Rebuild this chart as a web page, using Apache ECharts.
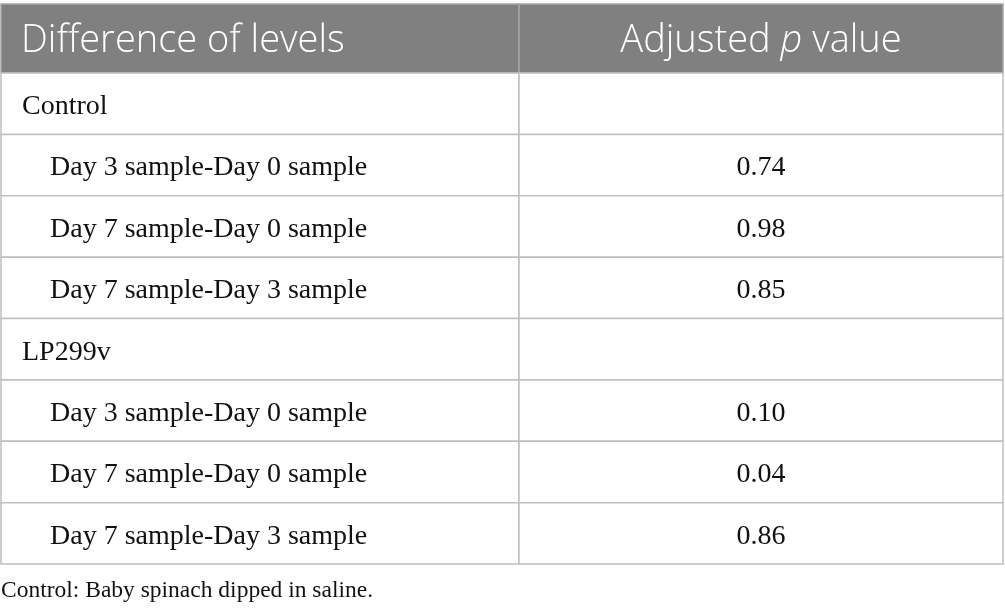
<!DOCTYPE html>
<html>
<head>
<meta charset="utf-8">
<script src="https://cdn.jsdelivr.net/npm/echarts@6/dist/echarts.min.js"></script>
<style>
  html, body { margin: 0; padding: 0; background: #fff; }
  #chart { width: 1005px; height: 616px; }
</style>
</head>
<body>
<div id="chart"></div>
<script>
// table content
const headers = ['Difference of levels', 'Adjusted p value'];
const groups = ['Control', 'LP299v'];
const comparisons = [
    'Day 3 sample-Day 0 sample',
    'Day 7 sample-Day 0 sample',
    'Day 7 sample-Day 3 sample'
];
const controlP = [0.74, 0.98, 0.85];
const lp299vP = [0.10, 0.04, 0.86];
const footnote = 'Control: Baby spinach dipped in saline.';

// layout / style
const COL_SPLIT = 518 / 1002;   // share of width taken by the first column
const LINE = '#bfbfbf';
const HEAD_BG = '#808080';
const SERIF = '"Liberation Serif", "DejaVu Serif", serif';
const SANS = '"Open Sans", "Noto Sans", sans-serif';

// build rows: group row followed by its comparisons
const pByGroup = [controlP, lp299vP];
const rows = [];
groups.forEach((g, gi) => {
    rows.push({ label: g, value: '', indent: false });
    comparisons.forEach((c, ci) => {
        rows.push({ label: c, value: pByGroup[gi][ci].toFixed(2), indent: true });
    });
});
const rowNames = rows.map((r, i) => 'r' + i);

const cellData = [];
rows.forEach((r, i) => {
    cellData.push([0, i]);
    cellData.push([1, i]);
});

function colRange(col) {
    return col === 0 ? [0, COL_SPLIT] : [COL_SPLIT, 1];
}

function renderBodyCell(params, api) {
    const col = api.value(0);
    const row = api.value(1);
    const [x0, x1] = colRange(col);
    const bandH = api.size([0, 1])[1];
    const pLeft = api.coord([x0, row]);
    const pRight = api.coord([x1, row]);
    const top = pLeft[1] - bandH / 2;
    const r = rows[row];
    const text = col === 0 ? r.label : r.value;
    const textX = col === 0 ? pLeft[0] + (r.indent ? 49 : 21) : (pLeft[0] + pRight[0]) / 2;
    return {
        type: 'group',
        children: [
            {
                type: 'rect',
                shape: { x: pLeft[0], y: top, width: pRight[0] - pLeft[0], height: bandH },
                style: { fill: '#fff', stroke: LINE, lineWidth: 1.5 }
            },
            {
                type: 'text',
                style: {
                    x: textX,
                    y: pLeft[1] + 3,
                    text: text,
                    fill: '#111',
                    font: '28px ' + SERIF,
                    align: col === 0 ? 'left' : 'center',
                    verticalAlign: 'middle'
                }
            }
        ]
    };
}

function renderHeadCell(params, api) {
    const col = api.value(0);
    const [x0, x1] = colRange(col);
    const bandH = api.size([0, 1])[1];
    const pLeft = api.coord([x0, 0]);
    const pRight = api.coord([x1, 0]);
    const top = pLeft[1] - bandH / 2;
    const isP = col === 1;
    return {
        type: 'group',
        children: [
            {
                type: 'rect',
                shape: { x: pLeft[0], y: top, width: pRight[0] - pLeft[0], height: bandH },
                style: { fill: HEAD_BG, stroke: '#a6a6a6', lineWidth: 1.5 }
            },
            {
                type: 'text',
                style: {
                    x: isP ? (pLeft[0] + pRight[0]) / 2 : pLeft[0] + 20,
                    y: pLeft[1] + 3,
                    text: isP ? 'Adjusted {i|p} value' : headers[0],
                    fill: '#fff',
                    font: '300 38px ' + SANS,
                    align: isP ? 'center' : 'left',
                    verticalAlign: 'middle',
                    rich: {
                        i: { fontStyle: 'italic', fontWeight: 300, fontSize: 38, fontFamily: SANS, fill: '#fff' }
                    }
                }
            }
        ]
    };
}

const chart = echarts.init(document.getElementById('chart'), null, { renderer: 'canvas' });

const hiddenX = { type: 'value', min: 0, max: 1, show: false };

chart.setOption({
    backgroundColor: '#fff',
    animation: false,
    grid: [
        { left: 1, right: 2, top: 4, height: 69 },
        { left: 1, right: 2, top: 73, bottom: 52 }
    ],
    xAxis: [
        Object.assign({ gridIndex: 0 }, hiddenX),
        Object.assign({ gridIndex: 1 }, hiddenX)
    ],
    yAxis: [
        { gridIndex: 0, type: 'category', data: ['head'], show: false },
        { gridIndex: 1, type: 'category', data: rowNames, inverse: true, show: false }
    ],
    graphic: [
        {
            type: 'text',
            left: 1,
            top: 579,
            style: {
                text: footnote,
                fill: '#111',
                font: '23.5px ' + SERIF
            }
        }
    ],
    series: [
        {
            type: 'custom',
            xAxisIndex: 0,
            yAxisIndex: 0,
            renderItem: renderHeadCell,
            data: headers.map((h, i) => [i, 0])
        },
        {
            type: 'custom',
            xAxisIndex: 1,
            yAxisIndex: 1,
            renderItem: renderBodyCell,
            data: cellData
        }
    ]
});
</script>
</body>
</html>
